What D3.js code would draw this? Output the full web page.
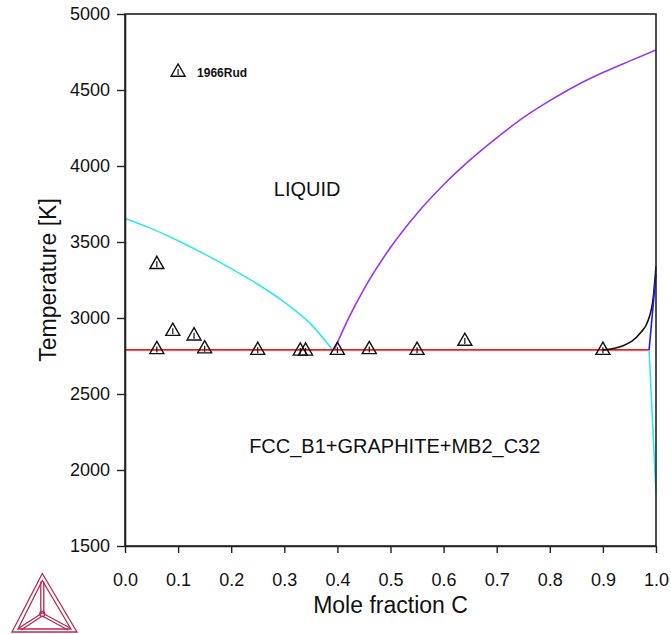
<!DOCTYPE html>
<html><head><meta charset="utf-8">
<script src="https://cdn.jsdelivr.net/npm/d3@7"></script>
<style>body{margin:0;background:#fff}svg{display:block;font-family:"Liberation Sans",Arial,sans-serif}</style>
</head><body><svg id="c" width="671" height="634"></svg>
<script>
const xTicks=[0,0.1,0.2,0.3,0.4,0.5,0.6,0.7,0.8,0.9,1.0];
const yTicks=[1500,2000,2500,3000,3500,4000,4500,5000];
// liquidus (cyan, left)
const liqLeft=[[0,3655],[0.05,3588],[0.1,3508],[0.15,3420],[0.2,3325],[0.25,3222],[0.3,3105],[0.35,2960],[0.391,2790]];
// liquidus (purple, right)
const liqRight=[[0.394,2790],[0.42,2991],[0.45,3190],[0.5,3464],[0.55,3688],[0.6,3877],[0.65,4040],[0.7,4185],[0.75,4318],[0.8,4430],[0.85,4530],[0.9,4615],[0.95,4690],[1.0,4763]];
// eutectic line (red)
const eutectic=[[0,2790],[0.987,2790]];
// black curve near pure C
const blackCurve=[[0.9,2790],[0.938,2818],[0.97,2899],[0.9855,2987],[0.995,3140],[1.0,3340]];
// blue line
const blueLine=[[0.987,2790],[1.0,3290]];
// cyan line near pure C
const cyanRight=[[0.987,2790],[1.0,1850]];
// experimental points
const expX=[0.06,0.09,0.13,0.06,0.15,0.25,0.33,0.34,0.40,0.46,0.55,0.64,0.90];
const expT=[3360,2920,2890,2800,2805,2795,2790,2790,2795,2800,2795,2855,2795];
const legendPt=[0.1,4625];
const legendLabel="1966Rud";
const regionLabels=[{t:"LIQUID",x:0.343,y:3800},{t:"FCC_B1+GRAPHITE+MB2_C32",x:0.508,y:2110}];

const svg=d3.select("#c");
const L=125,R=656,T=14,B=546;
const x=d3.scaleLinear().domain([0,1]).range([L,R]);
const y=d3.scaleLinear().domain([1500,5000]).range([B,T]);
const line=d3.line().x(d=>x(d[0])).y(d=>y(d[1]));
const sm=d3.line().x(d=>x(d[0])).y(d=>y(d[1])).curve(d3.curveMonotoneX);

svg.append("path").attr("d",sm(liqLeft)).attr("fill","none").attr("stroke","#2ee8ee").attr("stroke-width",1.6);
svg.append("path").attr("d",sm(liqRight)).attr("fill","none").attr("stroke","#9a35f0").attr("stroke-width",1.6);
svg.append("path").attr("d",line(eutectic)).attr("fill","none").attr("stroke","#ff1a1a").attr("stroke-width",1.8);
svg.append("path").attr("d",sm(blackCurve)).attr("fill","none").attr("stroke","#111").attr("stroke-width",1.6);
svg.append("path").attr("d",line(blueLine)).attr("fill","none").attr("stroke","#1a1aff").attr("stroke-width",1.6);
svg.append("path").attr("d",line(cyanRight)).attr("fill","none").attr("stroke","#2ee8ee").attr("stroke-width",1.6);

// axes
const ax=svg.append("g").attr("transform",`translate(0,${B})`).call(d3.axisBottom(x).tickValues(xTicks).tickFormat(d3.format(".1f")).tickSize(7).tickSizeOuter(0).tickPadding(20));
const ay=svg.append("g").attr("transform",`translate(${L},0)`).call(d3.axisLeft(y).tickValues(yTicks).tickFormat(d3.format("d")).tickSize(8).tickSizeOuter(0).tickPadding(7));
[ax,ay].forEach(g=>{g.selectAll("text").attr("font-size",18).attr("fill","#111").attr("font-family","Liberation Sans, Arial, sans-serif");g.selectAll("line").attr("stroke","#222").attr("stroke-width",1.4);g.select(".domain").attr("stroke","#222").attr("stroke-width",1.6);});
svg.append("rect").attr("x",L).attr("y",T).attr("width",R-L).attr("height",B-T).attr("fill","none").attr("stroke","#222").attr("stroke-width",1.6);

// markers
function tri(g,cx,cy){
  const s=7;
  g.append("path").attr("d",`M${cx},${cy-s}L${cx+s},${cy+s*0.75}L${cx-s},${cy+s*0.75}Z`).attr("fill","none").attr("stroke","#111").attr("stroke-width",1.4);
  g.append("line").attr("x1",cx).attr("x2",cx).attr("y1",cy-2).attr("y2",cy+4).attr("stroke","#111").attr("stroke-width",1.2);
}
const mg=svg.append("g");
expX.forEach((v,i)=>tri(mg,x(v),y(expT[i])));
tri(mg,x(legendPt[0]),y(legendPt[1]));
svg.append("text").attr("x",x(legendPt[0])+19).attr("y",y(legendPt[1])+6).attr("font-size",12).attr("font-weight","bold").attr("fill","#111").text(legendLabel);

regionLabels.forEach(r=>svg.append("text").attr("x",x(r.x)).attr("y",y(r.y)).attr("text-anchor","middle").attr("font-size",20).attr("fill","#111").text(r.t));

svg.append("text").attr("x",(L+R)/2).attr("y",613).attr("text-anchor","middle").attr("font-size",23).attr("fill","#111").text("Mole fraction C");
svg.append("text").attr("transform",`translate(56,${(T+B)/2}) rotate(-90)`).attr("text-anchor","middle").attr("font-size",23).attr("fill","#111").text("Temperature [K]");

// logo
const lg=svg.append("g").attr("fill","none").attr("stroke","#b8284f").attr("stroke-width",1.3);
const A=[42.3,573.5],Bv=[12,632],C=[77,632],O=[42.3,613];
lg.append("path").attr("d",`M${A}L${Bv}L${C}Z`);
lg.append("path").attr("d",`M${A[0]},${A[1]+7}L${Bv[0]+6},${Bv[1]-3}L${C[0]-6},${C[1]-3}Z`);
lg.append("path").attr("d",`M${A[0]-1.5},${A[1]+8}L${O[0]-1.5},${O[1]}M${A[0]+1.5},${A[1]+8}L${O[0]+1.5},${O[1]}`);
lg.append("path").attr("d",`M${O}L${Bv[0]+7},${Bv[1]-4}M${O[0]},${O[1]+3}L${Bv[0]+9},${Bv[1]-2}`);
lg.append("path").attr("d",`M${O}L${C[0]-7},${C[1]-4}M${O[0]},${O[1]+3}L${C[0]-9},${C[1]-2}`);
lg.append("circle").attr("cx",O[0]).attr("cy",O[1]+1).attr("r",2.5);
</script></body></html>
